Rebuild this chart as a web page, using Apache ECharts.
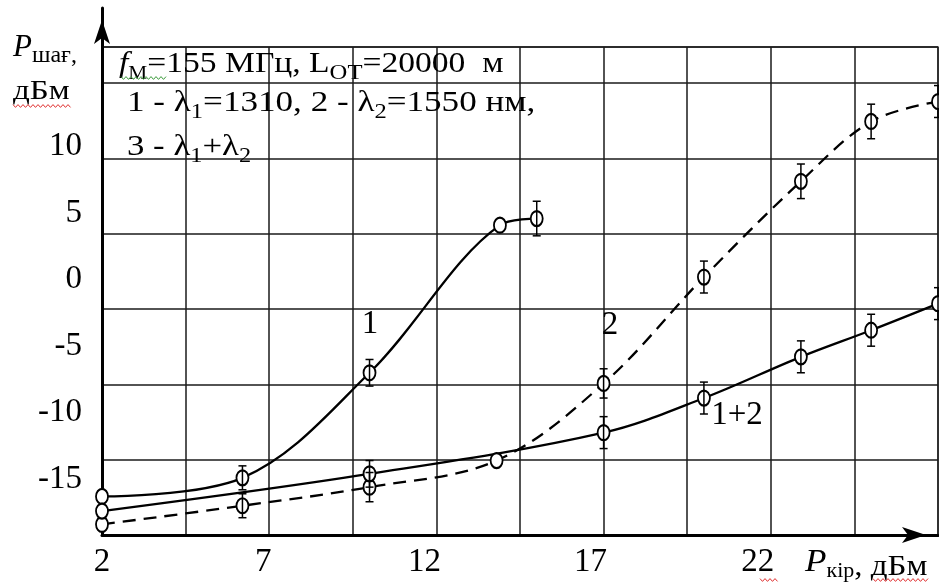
<!DOCTYPE html>
<html>
<head>
<meta charset="utf-8">
<script src="https://cdn.jsdelivr.net/npm/echarts@6/dist/echarts.min.js"></script>
<style>
  html, body { margin: 0; padding: 0; background: #fff; }
  #chart { width: 939px; height: 583px; }
</style>
</head>
<body>
<div id="chart"></div>
<script>
// Output power vs input power (dBm) for the three measured curves.
// Curve 1: λ1 = 1310 nm
const xLambda1 = [2, 6.2, 10, 13.9, 15];
const yLambda1 = [-16.3, -14.9, -7.0, 4.1, 4.6];
const errLambda1 = [null, 0.9, 1.0, null, 1.3];

// Curve 2: λ2 = 1550 nm
const xLambda2 = [2, 6.2, 10, 13.8, 17, 20, 22.9, 25, 27];
const yLambda2 = [-18.4, -17.0, -15.6, -13.6, -7.8, 0.2, 7.4, 11.9, 13.4];
const errLambda2 = [null, 0.9, 1.1, null, 1.1, 1.2, 1.3, 1.3, 1.2];

// Curve 3: λ1 + λ2
const xBoth = [2, 10, 17, 20, 22.9, 25, 27];
const yBoth = [-17.4, -14.6, -11.5, -8.9, -5.8, -3.8, -1.8];
const errBoth = [null, 1.0, 1.2, 1.2, 1.2, 1.2, 1.2];

// Tick labels
const xTickLabels = [2, 7, 12, 17, 22];
const yTickLabels = [-15, -10, -5, 0, 5, 10];

// Axis ranges
const X_MIN = 2, X_MAX = 27;
const Y_MIN = -19.2, Y_MAX = 17.5;

const SERIF = 'Liberation Serif';
const ELLIPSE = 'path://M50,0A50,50 0 1,1 50,100A50,50 0 1,1 50,0Z';

const pairs = (xs, ys) => xs.map((x, i) => [x, ys[i]]);
const bars = (xs, ys, es) =>
  xs.map((x, i) => (es[i] == null ? null : [x, ys[i] - es[i], ys[i] + es[i]])).filter(Boolean);

function curve(name, xs, ys, dashed) {
  return {
    name, type: 'line', xAxisIndex: 0, yAxisIndex: 0,
    data: pairs(xs, ys),
    smooth: 0.35,
    symbol: ELLIPSE, symbolSize: [12, 15], showAllSymbol: true,
    lineStyle: { color: '#000', width: 2.3, type: dashed ? [13, 8] : 'solid' },
    itemStyle: { color: '#fff', borderColor: '#000', borderWidth: 2 },
    z: 3, silent: true
  };
}

function errorBars(xs, ys, es) {
  return {
    type: 'custom', xAxisIndex: 0, yAxisIndex: 0,
    data: bars(xs, ys, es),
    encode: { x: 0, y: [1, 2] },
    z: 4, silent: true,
    renderItem(params, api) {
      const x = api.value(0);
      const lo = api.coord([x, api.value(1)]);
      const hi = api.coord([x, api.value(2)]);
      const cap = 4;
      const style = { stroke: '#000', lineWidth: 1.5, fill: null };
      return {
        type: 'group',
        children: [
          { type: 'line', shape: { x1: lo[0], y1: lo[1], x2: hi[0], y2: hi[1] }, style },
          { type: 'line', shape: { x1: lo[0] - cap, y1: lo[1], x2: lo[0] + cap, y2: lo[1] }, style },
          { type: 'line', shape: { x1: hi[0] - cap, y1: hi[1], x2: hi[0] + cap, y2: hi[1] }, style }
        ]
      };
    }
  };
}

// Wavy underline as a zigzag polyline
function wave(x0, x1, y, color) {
  const pts = [];
  for (let x = x0, k = 0; x <= x1; x += 2.5, k++) pts.push([x, y + (k % 2 ? 1.4 : -1.4)]);
  return { type: 'polyline', shape: { points: pts }, style: { stroke: color, lineWidth: 1, fill: null }, z: 10 };
}

const annRich = {
  m:   { fontSize: 30, fontFamily: SERIF, color: '#000', lineHeight: 40, verticalAlign: 'middle' },
  i:   { fontSize: 30, fontFamily: SERIF, color: '#000', lineHeight: 40, verticalAlign: 'middle', fontStyle: 'italic' },
  lo:  { fontSize: 19, fontFamily: SERIF, color: '#000', lineHeight: 29, verticalAlign: 'bottom' },
  lo2: { fontSize: 22, fontFamily: SERIF, color: '#000', lineHeight: 29, verticalAlign: 'bottom' },
  sub: { fontSize: 21, fontFamily: SERIF, color: '#000', lineHeight: 10, verticalAlign: 'bottom' }
};

function richText(x, top, text, rich, scaleX) {
  return {
    type: 'text', x, y: top, scaleX: scaleX || 1, z: 10, silent: true,
    style: { text, rich, lineHeight: 40, align: 'left', verticalAlign: 'top', fill: '#000' }
  };
}
function plainText(x, y, text, size, align, scaleX) {
  return {
    type: 'text', x, y, scaleX: scaleX || 1, z: 10, silent: true,
    style: { text, fontSize: size, fontFamily: SERIF, fill: '#000', align: align || 'left', verticalAlign: 'middle' }
  };
}

const xLabelRich = {};
const xLabelPad = { 2: 0, 7: 12, 12: 24, 17: 26, 22: 26 };
xTickLabels.forEach(v => {
  xLabelRich['s' + v] = { fontSize: 33, fontFamily: SERIF, color: '#000', padding: [0, xLabelPad[v] || 0, 0, 0] };
});

const chart = echarts.init(document.getElementById('chart'), null, { renderer: 'canvas' });

chart.setOption({
  animation: false,
  backgroundColor: '#fff',
  grid: [
    { left: 102, right: 1, top: 47, bottom: 48, show: true, borderColor: '#333', borderWidth: 1.3, backgroundColor: 'transparent' },
    { left: 102, right: 1, top: 8, bottom: 48 }
  ],
  xAxis: [
    {
      type: 'value', gridIndex: 0, min: X_MIN, max: X_MAX, position: 'bottom',
      axisLine: { show: true, onZero: false, lineStyle: { color: '#000', width: 3 },
                  symbol: ['none', 'arrow'], symbolSize: [12, 24], symbolOffset: [0, -12] },
      axisTick: { show: false },
      splitLine: { show: false },
      axisLabel: {
        customValues: xTickLabels, margin: 11,
        formatter: v => '{s' + v + '|' + v + '}',
        rich: xLabelRich
      }
    },
    {
      // vertical grid lines
      type: 'value', gridIndex: 0, min: 0, max: 10, interval: 1, position: 'top',
      axisLine: { show: false }, axisTick: { show: false }, axisLabel: { show: false },
      splitLine: { show: true, lineStyle: { color: '#1a1a1a', width: 1.5 } }
    },
    { type: 'value', gridIndex: 1, min: 0, max: 1, show: false }
  ],
  yAxis: [
    {
      type: 'value', gridIndex: 0, min: Y_MIN, max: Y_MAX, position: 'left',
      axisLine: { show: false }, axisTick: { show: false }, splitLine: { show: false },
      axisLabel: {
        customValues: yTickLabels, margin: 20,
        fontSize: 33, fontFamily: SERIF, color: '#000'
      }
    },
    {
      // horizontal grid lines
      type: 'value', gridIndex: 0, min: 0, max: 6.48, interval: 1, position: 'right',
      axisLine: { show: false }, axisTick: { show: false }, axisLabel: { show: false },
      splitLine: { show: true, lineStyle: { color: '#1a1a1a', width: 1.5 } }
    },
    {
      // vertical axis line with arrow
      type: 'value', gridIndex: 1, min: 0, max: 1, position: 'left',
      axisLine: { show: true, onZero: false, lineStyle: { color: '#000', width: 3 },
                  symbol: ['none', 'arrow'], symbolSize: [12, 24], symbolOffset: [0, -12] },
      axisTick: { show: false }, axisLabel: { show: false }, splitLine: { show: false }
    }
  ],
  series: [
    curve('λ1', xLambda1, yLambda1, false),
    curve('λ2', xLambda2, yLambda2, true),
    curve('λ1+λ2', xBoth, yBoth, false),
    errorBars(xLambda1, yLambda1, errLambda1),
    errorBars(xLambda2, yLambda2, errLambda2),
    errorBars(xBoth, yBoth, errBoth)
  ],
  graphic: [
    // parameter block
    richText(119, 44, '{i|f}{lo|М}{m|=155 МГц, L}{lo2|ОТ}{m|=20000  м}', annRich, 1.12),
    richText(127, 83, '{m|1 - λ}{sub|1}{m|=1310, 2 - λ}{sub|2}{m|=1550 нм,}', annRich, 1.17),
    richText(127, 127, '{m|3 - λ}{sub|1}{m|+λ}{sub|2}', annRich, 1.16),
    wave(121, 168, 78, '#3a9a3a'),

    // y-axis title
    richText(13, 27.5, '{p|P}{s|шағ,}', {
      p: { fontSize: 31, fontFamily: SERIF, fontStyle: 'italic', color: '#000', lineHeight: 40, verticalAlign: 'middle' },
      s: { fontSize: 24, fontFamily: SERIF, color: '#000', lineHeight: 26, verticalAlign: 'bottom' }
    }),
    plainText(13, 91.5, 'дБм', 28, 'left', 1.18),
    wave(13, 72, 106, '#e03030'),

    // x-axis title
    richText(805, 542.2, '{p|P}{s|кір}{n|, дБм}', {
      p: { fontSize: 32, fontFamily: SERIF, fontStyle: 'italic', color: '#000', lineHeight: 40, verticalAlign: 'middle' },
      s: { fontSize: 20, fontFamily: SERIF, color: '#000', lineHeight: 22, verticalAlign: 'bottom' },
      n: { fontSize: 30, fontFamily: SERIF, color: '#000', lineHeight: 34.6, verticalAlign: 'bottom' }
    }, 1.1),
    wave(760, 778, 580, '#e03030'),
    wave(873, 930, 580, '#e03030'),

    // curve labels
    plainText(370, 323.9, '1', 33, 'center'),
    plainText(610, 325.6, '2', 33, 'center'),
    plainText(737, 415.6, '1+2', 33, 'center')
  ]
});
</script>
</body>
</html>
